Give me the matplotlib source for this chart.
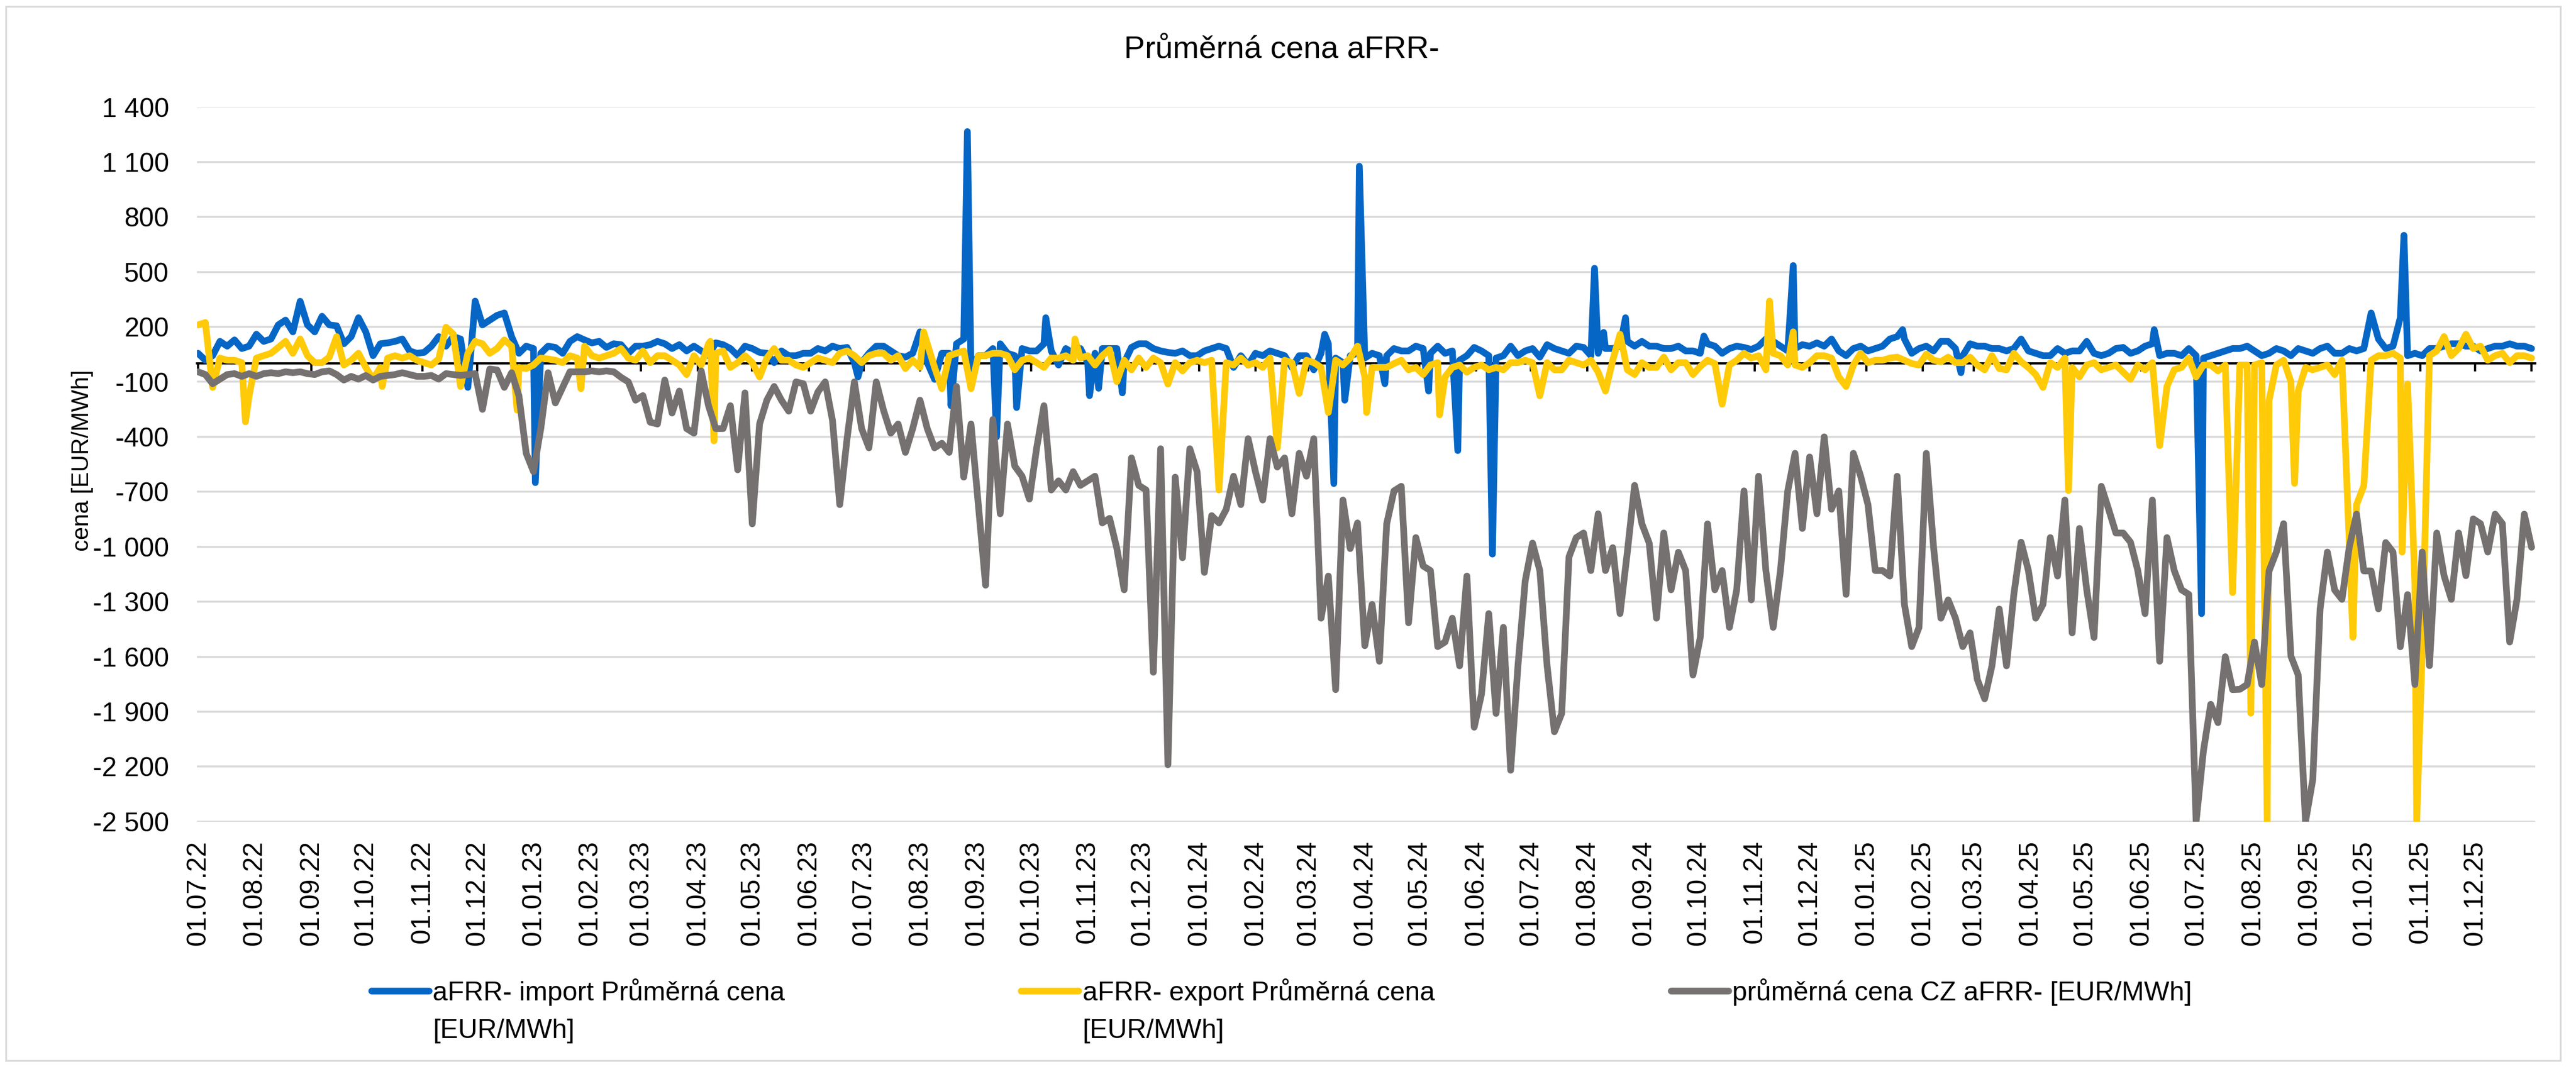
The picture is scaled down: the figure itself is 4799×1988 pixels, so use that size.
import numpy as np
import pandas as pd
import matplotlib
matplotlib.use("Agg")
import matplotlib.pyplot as plt
import matplotlib.dates as mdates
from matplotlib import font_manager
from matplotlib.patches import Rectangle

# ---------------- data ----------------
start_date = "2022-07-01"
last_label_date = "2025-12-01"
axis_end_date = "2026-01-01"
grid_step = "4D"

title_text = "Průměrná cena aFRR-"
ylabel_text = "cena [EUR/MWh]"
series_names = ["aFRR- import Průměrná cena", "aFRR- export Průměrná cena",
                "průměrná cena CZ aFRR- [EUR/MWh]"]
unit_line = "[EUR/MWh]"

y_ticks = [-2500, -2200, -1900, -1600, -1300, -1000, -700, -400, -100,
           200, 500, 800, 1100, 1400]
y_tick_labels = ["-2 500", "-2 200", "-1 900", "-1 600", "-1 300", "-1 000",
                 "-700", "-400", "-100", "200", "500", "800", "1 100", "1 400"]

# import price, sampled every 4 days
import_vals = [
    56, 18, 43, 121, 95, 129, 82, 95, 160, 121, 134, 211, 237, 173, 340, 211, 173, 258, 211, 206,
    108, 147, 250, 173, 43, 108, 113, 121, 134, 69, 56, 61, 95, 147, 95, 147, 134, -130, 341, 211, 237,
    263, 276, 147, 56, 95, 82, 56, 95, 88, 56, 121, 147, 129, 113, 121, 88, 108, 103, 56, 95,
    95, 103, 121, 108, 82, 103, 69, 95, 69, 43, 113, 103, 82, 43, 95, 82, 61, 56, 5, 69,
    43, 43, 56, 56, 82, 69, 95, 82, 88, 5, 5, 56, 95, 95, 69, 43, 35, 56, 173, 5,
    -86, 56, 56, 108, 134, -47, 43, 43, 82, 108, 56, 43, 82, 69, 69, 108, 69, -8, 82, 56,
    82, 5, 56, 82, 82, 82, 5, 88, 108, 108, 82, 69, 61, 56, 69, 43, 43, 69, 82, 95,
    82, -21, 43, -8, 56, 43, 69, 56, 43, -21, 43, 43, -34, 56, 108, 30, 5, 43, 56, 30,
    56, 43, 43, 82, 69, 69, 95, 82, 56, 95, 56, 69, 18, 43, 88, 69, 43, 30, 43, 95,
    43, 69, 82, 35, 103, 82, 69, 56, 95, 88, 43, 56, 82, 82, 95, 121, 95, 121, 95,
    95, 82, 82, 95, 69, 69, 56, 108, 95, 56, 82, 95, 88, 77, 95, 134, 121, 95, 69, 82,
    103, 95, 113, 95, 134, 69, 43, 82, 95, 69, 82, 95, 134, 147, 134, 56, 82, 95, 69, 121,
    121, 82, 43, 108, 95, 95, 82, 82, 69, 82, 134, 69, 56, 43, 43, 82, 56, 69, 69, 121,
    56, 43, 56, 82, 88, 56, 69, 95, 108, 43, 56, 56, 43, 82, 43, 30, 43, 56, 69, 82,
    82, 95, 69, 43, 56, 82, 69, 43, 82, 69, 56, 82, 95, 56, 56, 82, 69, 82, 276, 134,
    82, 95, 250, 43, 56, 43, 82, 82, 95, 108, 108, 95, 95, 69, 82, 95, 95, 108, 95, 95, 82,
]
import_spike_dates = [
    "2023-01-02", "2023-06-28", "2023-08-18", "2023-08-27", "2023-09-12", "2023-09-23",
    "2023-10-09", "2023-11-02", "2023-11-07", "2023-11-20", "2024-03-10", "2024-03-15",
    "2024-03-21", "2024-03-29", "2024-04-12", "2024-05-06", "2024-05-22", "2024-06-10",
    "2024-08-05", "2024-08-10", "2024-08-22", "2024-10-04", "2024-11-22", "2025-01-21",
    "2025-02-22", "2025-06-08", "2025-07-04", "2025-10-23",
]
import_spike_vals = [
    -650, -73, -230, 1266, -400, -240,
    250, -175, -135, -160, 160, -655,
    -200, 1077, -110, -150, -475, -1040,
    520, 170, 250, 150, 535, 185,
    -50, 185, -1365, 700,
]

# export price, sampled every 4 days
export_vals = [
    211, 224, -130, 30, 18, 18, 5, -176, 30, 43, 56, 88, 121, 56, 134, 43, 5, 5, 35, 147,
    -8, 18, 56, -21, -86, -21, 30, 43, 30, 43, 18, 5, -8, 25, 198, 160, -125, 56, 121, 108, 56,
    82, 129, 95, -21, -27, -8, 30, 25, 18, 5, 43, 30, 95, 43, 30, 43, 56, 82, 30, 18,
    69, 5, 43, 43, 18, -8, -60, 43, -8, 108, 56, 69, -21, 5, 43, 5, -73, 30, 82, 18,
    18, -8, -21, 5, 30, 18, 5, 56, 69, 43, 5, 43, 56, 56, 18, 43, -27, 18, -21, 108,
    -21, -137, 43, 56, 69, -137, 43, 43, 56, 56, 43, -34, 18, 30, 5, -21, 30, 30, 43, 18,
    30, 43, -8, 43, 77, -99, 18, -34, 30, -21, 30, 5, -112, 5, -40, 5, 18, 5, 18, -690,
    5, -8, 30, -8, 5, -21, 30, -460, 18, 5, -163, 18, 5, -21, -267, 18, -8, 30, 95, -73,
    -21, -21, -21, 0, 18, -34, -21, -60, -8, 5, -73, -21, -8, -47, -21, -8, -34, -21, -34, 5,
    5, 18, 5, -176, 5, -34, -34, 18, 5, -8, 18, -47, -150, 18, 160, -34, -60, 5, -21,
    -21, 35, -34, 5, 5, -60, -16, 18, 0, -222, -8, 18, 56, 30, 43, -34, 56, 43, -8, -8,
    -21, 5, 43, 43, 30, -73, -125, -8, 56, 5, 18, 18, 30, 35, 18, 0, -8, 51, 18, 10,
    35, 5, 5, 35, -8, -34, 43, -27, -34, 56, 10, -21, -60, -130, 5, -21, 30, -21, -73, -8,
    5, -34, -21, -8, -47, -86, -8, -34, 5, -448, -125, -34, -21, 30, -73, -8, -8, -40, -8, -1250,
    -8, -8, -8, 5, -202, -8, 18, -99, -150, -21, -34, -21, -8, -60, 18, -977, -770, -667, 18, 43,
    43, 56, 30, -112, -1200, -1570, 43, 69, 147, 43, 82, 160, 82, 95, 18, 43, 56, 5, 43, 43, 30,
]
export_spike_dates = [
    "2022-07-27", "2022-10-10", "2022-12-23", "2023-01-27", "2023-04-08", "2023-04-10",
    "2023-08-03", "2023-10-25", "2024-04-02", "2024-05-12", "2024-11-09", "2024-11-22",
    "2025-04-22", "2025-07-31", "2025-08-09", "2025-08-24", "2025-09-25", "2025-10-22",
    "2025-10-30",
]
export_spike_vals = [
    -318, -125, -254, -137, 121, -422,
    173, 134, -267, -280, 341, 173,
    -693, -1908, -2500, -654, -1494, -1029,
    -2500,
]

# CZ average price, sampled every 4 days
cz_vals = [
    -45, -60, -110, -85, -60, -55, -70, -55, -70, -55, -50, -55, -45, -50, -45, -55, -60, -45, -40, -60,
    -90, -70, -85, -65, -90, -70, -65, -60, -50, -60, -70, -70, -65, -85, -55, -60, -65, -60, -55, -250, -30,
    -35, -130, -50, -175, -490, -590, -355, -50, -215, -130, -45, -45, -45, -40, -45, -40, -45, -75, -100, -200,
    -175, -320, -330, -90, -270, -150, -355, -380, -40, -230, -355, -355, -230, -580, -160, -875, -330, -200, -125, -200,
    -260, -100, -110, -260, -155, -100, -310, -770, -410, -100, -355, -460, -100, -255, -380, -330, -485, -355, -200, -355,
    -460, -435, -485, -125, -620, -330, -770, -1210, -305, -820, -330, -560, -615, -740, -460, -230, -690, -640, -690, -590,
    -665, -640, -615, -870, -845, -1010, -1235, -515, -665, -690, -1685, -465, -2190, -620, -1060, -465, -590, -1140, -830, -870,
    -795, -615, -770, -410, -590, -745, -410, -565, -515, -820, -490, -615, -410, -1390, -1160, -1780, -745, -1010, -870, -1540,
    -1315, -1625, -875, -695, -670, -1415, -950, -1105, -1130, -1545, -1520, -1390, -1650, -1160, -1985, -1805, -1365, -1910, -1440, -2220,
    -1650, -1185, -980, -1130, -1650, -2010, -1910, -1055, -950, -925, -1130, -820, -1130, -1005, -1365, -1030, -665, -875, -980,
    -1390, -925, -1235, -1030, -1130, -1700, -1495, -875, -1235, -1130, -1440, -1235, -695, -1290, -615, -1130, -1440, -1130, -695, -490,
    -900, -510, -820, -400, -795, -695, -1260, -490, -615, -770, -1130, -1130, -1160, -615, -1315, -1545, -1440, -490, -1005, -1390,
    -1290, -1390, -1545, -1470, -1725, -1830, -1650, -1340, -1650, -1260, -975, -1130, -1390, -1315, -950, -1160, -745, -1470, -900, -1235,
    -1495, -670, -795, -925, -925, -975, -1130, -1365, -745, -1625, -950, -1130, -1235, -1260, -2500, -2115, -1860, -1960, -1600, -1780,
    -1778, -1752, -1520, -1752, -1132, -1029, -874, -1597, -1700, -2500, -2270, -1339, -1029, -1236, -1287, -1003, -822, -1132, -1132, -1339,
    -977, -1029, -1546, -1261, -1752, -1029, -1649, -925, -1158, -1287, -925, -1158, -848, -874, -1029, -822, -874, -1520, -1287, -822, -1003,
]

colors = ["#0566C6", "#FFCA08", "#767171"]


def build_series(vals, spike_dates=(), spike_vals=()):
    base = pd.Series(vals, index=pd.date_range(start_date, periods=len(vals), freq=grid_step), dtype=float)
    if len(spike_dates):
        extra = pd.Series(spike_vals, index=pd.to_datetime(list(spike_dates)), dtype=float)
        base = pd.concat([base, extra])
    return base.sort_index()


s_import = build_series(import_vals, import_spike_dates, import_spike_vals)
s_export = build_series(export_vals, export_spike_dates, export_spike_vals)
s_cz = build_series(cz_vals)

# ---------------- styling ----------------
avail = {f.name for f in font_manager.fontManager.ttflist}
family = next((f for f in ["Liberation Sans", "Arimo", "DejaVu Sans"] if f in avail), "DejaVu Sans")
plt.rcParams["font.family"] = [family]

W, H, DPI = 4799, 1988, 300
fig = plt.figure(figsize=(W / DPI, H / DPI), dpi=DPI)
fig.patch.set_facecolor("white")

# outer chart border
fig.add_artist(Rectangle((11 / W, 12 / H), (4770 - 11) / W, (1976 - 12) / H,
                         transform=fig.transFigure, fill=False,
                         edgecolor="#D9D9D9", linewidth=0.8))

left, right, top, bottom = 367 / W, 4723 / W, 199.5 / H, 1530.7 / H
ax = fig.add_axes([left, 1 - bottom, right - left, bottom - top])

lw = 3.0
for s, c, name in zip([s_import, s_export, s_cz], colors, series_names):
    ax.plot(s.index, s.values, color=c, lw=lw, solid_joinstyle="round",
            solid_capstyle="round", label=name, zorder=3)

ax.set_ylim(y_ticks[0], y_ticks[-1])
x0 = pd.Timestamp(start_date) - pd.Timedelta(hours=14)
x1 = pd.Timestamp(start_date) + pd.Timedelta(days=1282)
ax.set_xlim(x0, x1)

ax.set_yticks(y_ticks)
ax.set_yticklabels(y_tick_labels)
ax.yaxis.grid(True, color="#D9D9D9", lw=0.85)
ax.set_axisbelow(True)
for sp in ax.spines.values():
    sp.set_visible(False)
ax.tick_params(axis="y", length=0, pad=12.5, labelsize=12, labelcolor="#000000")

label_ticks = pd.date_range(start_date, last_label_date, freq="MS")
ax.set_xticks(label_ticks)
ax.xaxis.set_major_formatter(mdates.DateFormatter("%d.%m.%y"))
ax.tick_params(axis="x", length=0, pad=8.5, labelsize=12, labelrotation=90)

# horizontal axis line at value 0 with tick marks
loc0 = (0 - y_ticks[0]) / (y_ticks[-1] - y_ticks[0])
sec = ax.secondary_xaxis(loc0)
sec.set_xticks(pd.date_range(start_date, axis_end_date, freq="MS"))
sec.tick_params(axis="x", direction="in", length=3.6, width=1.0, color="black",
                labelbottom=False, labeltop=False)
for sp in sec.spines.values():
    sp.set_linewidth(1.0)
    sp.set_color("black")

# title and y label
fig.text(2388 / W, 1 - 92 / H, title_text, ha="center", va="center", fontsize=14)
fig.text(153 / W, 1 - 858 / H, ylabel_text, ha="center", va="center",
         rotation=90, fontsize=10.5)

# legend
handles = ax.get_lines()
leg = fig.legend(handles, series_names, ncol=3, loc="center",
                 bbox_to_anchor=(0.4975, 1 - 1848 / H), frameon=False, fontsize=12,
                 handlelength=2.14, handletextpad=0.15, columnspacing=8.8)
fig.canvas.draw()
renderer = fig.canvas.get_renderer()
for t in leg.get_texts()[:2]:
    bb = t.get_window_extent(renderer)
    fig.text(bb.x0 / W, (bb.y0 - 70) / H, unit_line, ha="left", va="bottom", fontsize=12)

fig.savefig("out.png", dpi=DPI, facecolor="white")
